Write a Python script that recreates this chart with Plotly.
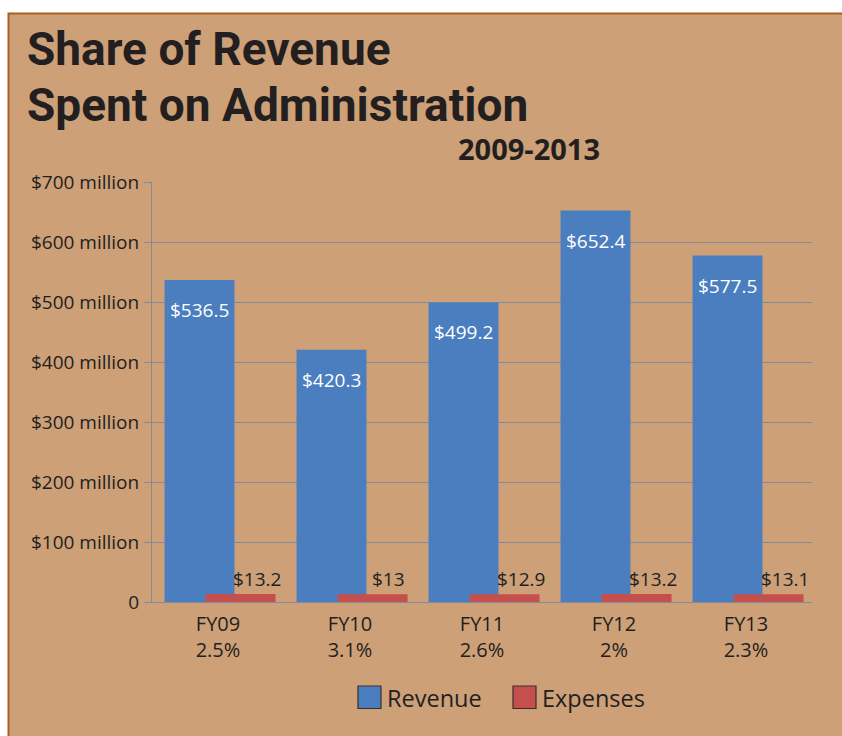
import plotly.graph_objects as go

# ---- data (values in $ millions) ----
categories = ["FY09", "FY10", "FY11", "FY12", "FY13"]
admin_share = ["2.5%", "3.1%", "2.6%", "2%", "2.3%"]
revenue = [536.5, 420.3, 499.2, 652.4, 577.5]
expenses = [13.2, 13, 12.9, 13.2, 13.1]
y_tick_values = [0, 100, 200, 300, 400, 500, 600, 700]
y_tick_labels = ["0", "$100 million", "$200 million", "$300 million",
                 "$400 million", "$500 million", "$600 million", "$700 million"]

# ---- style ----
W, H = 842, 736
L, R, T, B = 152, 30, 182, 134
TAN = "#CDA077"
FRAME = "#A8611F"
BLUE = "#4A7EBF"
RED = "#C44F4C"
GRID = "#838A98"
INK = "#231F20"
FONT = "Open Sans, Noto Sans, sans-serif"
TITLE_FONT = "Roboto, sans-serif"

PW, PH = W - L - R, H - T - B


def px_x(x):
    """Pixel column -> paper x."""
    return (x - L) / PW


def px_y(y):
    """Pixel row -> paper y."""
    return (H - B - y) / PH


# overlapping bar geometry (category units)
REV_OFF, REV_W = -0.405, 0.53
EXP_OFF, EXP_W = -0.094, 0.53

fig = go.Figure()
fig.add_trace(go.Bar(
    x=categories, y=revenue, name="Revenue",
    offset=REV_OFF, width=REV_W,
    marker=dict(color=BLUE, line=dict(width=0)),
    showlegend=False,
))
fig.add_trace(go.Bar(
    x=categories, y=expenses, name="Expenses",
    offset=EXP_OFF, width=EXP_W,
    marker=dict(color=RED, line=dict(width=0)),
    showlegend=False,
))

annotations = []
# value labels
for i, v in enumerate(revenue):
    annotations.append(dict(
        x=i + REV_OFF + REV_W / 2, y=v, xref="x", yref="y",
        text=f"${v:g}", showarrow=False, xanchor="center", yanchor="top",
        yshift=-15, font=dict(family=FONT, size=19, color="white"),
    ))
for i, v in enumerate(expenses):
    annotations.append(dict(
        x=i + EXP_OFF + EXP_W / 2, y=v, xref="x", yref="y",
        text=f"${v:g}", showarrow=False, xanchor="center", yanchor="bottom",
        xshift=16, yshift=0, font=dict(family=FONT, size=19, color=INK),
    ))

# headings
annotations += [
    dict(x=px_x(25), y=px_y(49), xref="paper", yref="paper",
         text="<b>Share of Revenue</b>", showarrow=False,
         xanchor="left", yanchor="middle",
         font=dict(family=TITLE_FONT, size=46, color=INK)),
    dict(x=px_x(25), y=px_y(105), xref="paper", yref="paper",
         text="<b>Spent on Administration</b>", showarrow=False,
         xanchor="left", yanchor="middle",
         font=dict(family=TITLE_FONT, size=46, color=INK)),
    dict(x=px_x(529), y=px_y(148), xref="paper", yref="paper",
         text="<b>2009-2013</b>", showarrow=False,
         xanchor="center", yanchor="middle",
         font=dict(family=FONT, size=29, color=INK)),
]

shapes = [
    # tan panel with a rust frame on its top and left edges
    dict(type="rect", xref="paper", yref="paper", layer="below",
         x0=px_x(8.5), x1=px_x(W + 20), y0=px_y(H + 20), y1=px_y(13.5),
         fillcolor=TAN, line=dict(color=FRAME, width=2)),
]

# legend keys
legend_items = [("Revenue", BLUE, 358), ("Expenses", RED, 513)]
for name, color, x0 in legend_items:
    shapes.append(dict(
        type="rect", xref="paper", yref="paper",
        x0=px_x(x0), x1=px_x(x0 + 23), y0=px_y(708.5), y1=px_y(686),
        fillcolor=color, line=dict(color="#3A2E28", width=1.2)))
    annotations.append(dict(
        x=px_x(x0 + 27), y=px_y(697.5), xref="paper", yref="paper",
        text=name, showarrow=False, xanchor="left", yanchor="middle",
        font=dict(family=FONT, size=23.5, color=INK)))

fig.update_layout(
    width=W, height=H,
    margin=dict(l=L, r=R, t=T, b=B, pad=0),
    paper_bgcolor="white",
    plot_bgcolor="rgba(0,0,0,0)",
    barmode="overlay",
    showlegend=False,
    font=dict(family=FONT, color=INK),
    shapes=shapes,
    annotations=annotations,
    xaxis=dict(
        type="category", range=[-0.5, 4.5],
        tickvals=categories,
        ticktext=[f"{c}<br>{s}" for c, s in zip(categories, admin_share)],
        tickfont=dict(family=FONT, size=20, color=INK),
        showgrid=False, zeroline=False,
        showline=True, linecolor=GRID, linewidth=1.3,
        ticks="", ticklabelstandoff=4, fixedrange=True,
    ),
    yaxis=dict(
        range=[0, 700],
        tickvals=y_tick_values, ticktext=y_tick_labels,
        tickfont=dict(family=FONT, size=19, color=INK),
        showgrid=True, gridcolor=GRID, gridwidth=1,
        zeroline=False,
        showline=True, linecolor=GRID, linewidth=1,
        ticks="outside", ticklen=7, tickcolor=GRID,
        ticklabelstandoff=1,
        fixedrange=True,
    ),
)

fig.write_html("out.html")
